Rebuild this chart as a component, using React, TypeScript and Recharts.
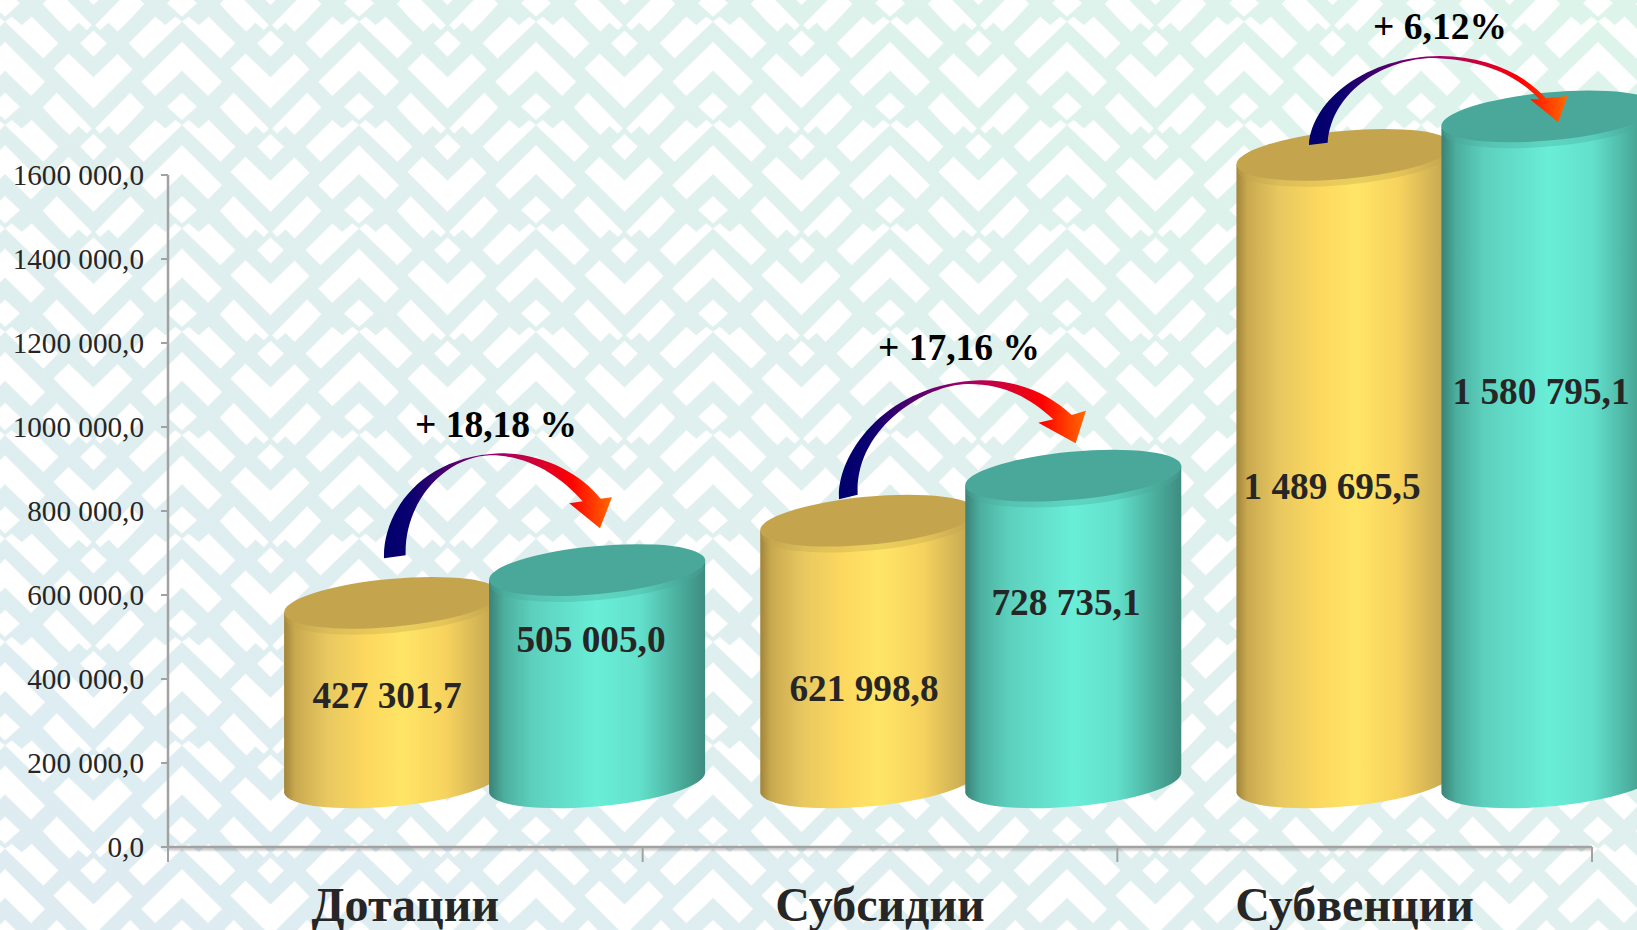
import { BarChart, Bar, XAxis, YAxis, LabelList } from 'recharts';

const categories = ['Дотации', 'Субсидии', 'Субвенции'];
const yearA = [427301.7, 621998.8, 1489695.5];
const yearB = [505005.0, 728735.1, 1580795.1];
const yTicks = [0, 200000, 400000, 600000, 800000, 1000000, 1200000, 1400000, 1600000];
const changes = ['+ 18,18 %', '+ 17,16 %', '+ 6,12%'];

const chartData = categories.map((name, i) => ({ name, yearA: yearA[i], yearB: yearB[i] }));

const WIDTH = 1637;
const HEIGHT = 930;
const SERIF = '"Liberation Serif", "Times New Roman", serif';
const INK = '#262626';
const AXIS = '#a2a2a2';
const PLOT_BOTTOM = 847;
const BAND = (1592 - 168) / 3;

// the 3D floor of the original sits up and to the right of the axes
const DEPTH_X = 89.1;
const DEPTH_STEP = 1.5;
const DEPTH_Y = -64;
const TILT = 10;
const RY = 24;

// hand placed in the original, not centred on the bars
const labelPosA = [{ x: 387, y: 708 }, { x: 864, y: 701 }, { x: 1332, y: 499 }];
const labelPosB = [{ x: 591, y: 652 }, { x: 1066, y: 615 }, { x: 1541, y: 404 }];
const changePos = [{ x: 496, y: 437 }, { x: 959, y: 360 }, { x: 1440, y: 39 }];

const arrows = [
  {
    at: 'translate(260 420) scale(0.3333)',
    d: 'M372 415 C368 280 480 110 720 100 C850 100 960 160 1022 236 L1056 232 L1020 325 L928 250 L968 244 C900 165 800 105 690 106 C560 110 432 240 437 406 Z',
  },
  {
    at: 'translate(820 320) scale(0.3333)',
    d: 'M57 538 C50 400 200 190 480 181 C600 180 690 225 755 285 L798 272 L767 370 L655 308 L700 298 C620 225 540 190 440 192 C320 195 105 320 113 524 Z',
  },
  {
    at: 'translate(1200 0) scale(0.3333)',
    d: 'M327 435 C335 300 500 170 720 168 C850 170 960 210 1038 295 L1103 288 L1075 367 L990 298 L1018 298 C950 225 850 180 700 174 C560 175 395 270 383 428 Z',
  },
];

// white pieces of the ornament, one tile
const ornament = [
  '160,205 205,160 280,232 352,162 397,208 280,325',
  '423,245 545,125 665,245 623,288 545,212 465,288',
  '170,278 128,322 180,378 208,405 235,378 260,400 275,385',
  '390,278 432,322 380,378 352,405 325,378 300,400 285,385',
  '240,130 280,92 320,130 280,170',
  '500,320 545,278 590,320 545,360',
  '385,130 465,50 495,75 525,50 545,65 430,175',
  '705,130 625,50 595,75 565,50 545,65 660,175',
];

function formatValue(v: number) {
  const [whole, frac] = v.toFixed(1).split('.');
  return whole.replace(/\B(?=(\d{3})+$)/g, ' ') + ',' + frac;
}

function formatTick(v: number) {
  return v === 0 ? '0,0' : `${v / 1000} 000,0`;
}

function Backdrop() {
  const offsets = [-1, 0, 1];
  return (
    <svg
      width={WIDTH}
      height={HEIGHT}
      style={{ position: 'absolute', left: 0, top: 0, filter: 'blur(0.6px)' }}
    >
      <defs>
        <linearGradient id="tint" x1="0" y1="1" x2="1" y2="0">
          <stop offset="0" stopColor="#deecf2" />
          <stop offset="0.5" stopColor="#dff0ee" />
          <stop offset="1" stopColor="#ddf4eb" />
        </linearGradient>
        <pattern id="ornament" width={177} height={103.4} patternUnits="userSpaceOnUse">
          <g transform="scale(0.33396 0.33355)">
            {offsets.map((ox) =>
              offsets.map((oy) => (
                <g key={`${ox}-${oy}`} transform={`translate(${ox * 530} ${oy * 310})`}>
                  {ornament.map((pts) => (
                    <polygon key={pts} points={pts} fill="#fff" />
                  ))}
                </g>
              )),
            )}
          </g>
        </pattern>
      </defs>
      <rect width={WIDTH} height={HEIGHT} fill="url(#tint)" />
      <rect width={WIDTH} height={HEIGHT} fill="url(#ornament)" />
    </svg>
  );
}

function Annotations() {
  return (
    <svg width={WIDTH} height={HEIGHT} style={{ position: 'absolute', left: 0, top: 0, pointerEvents: 'none' }}>
      <defs>
        <linearGradient id="arrowFill" x1="0" y1="0" x2="1" y2="0">
          <stop offset="0" stopColor="#00006e" />
          <stop offset="0.12" stopColor="#0c0070" />
          <stop offset="0.5" stopColor="#a0006c" />
          <stop offset="0.82" stopColor="#ff0000" />
          <stop offset="1" stopColor="#ff6a00" />
        </linearGradient>
      </defs>
      {arrows.map((a) => (
        <g key={a.at} transform={a.at}>
          <path d={a.d} fill="url(#arrowFill)" />
        </g>
      ))}
      {changes.map((c, i) => (
        <text
          key={c}
          x={changePos[i].x}
          y={changePos[i].y}
          textAnchor="middle"
          fontFamily={SERIF}
          fontWeight={700}
          fontSize={37.5}
          fill="#000"
        >
          {c}
        </text>
      ))}
    </svg>
  );
}

function Cylinder(props: any) {
  const { x, y, width, height, index, side, top } = props;
  const left = x + DEPTH_X + index * DEPTH_STEP;
  const right = left + width;
  const yBase = y + height + DEPTH_Y;
  const yTop = yBase - height * 1.004;
  const rx = width / 2 + 0.5;
  const cx = left + width / 2;
  const rot = (Math.atan2(-2 * TILT, width) * 180) / Math.PI;
  const body = `M${left} ${yTop + TILT} L${left} ${yBase + TILT} A${rx} ${RY} ${rot} 0 0 ${right} ${yBase - TILT} L${right} ${yTop - TILT} Z`;
  return (
    <g>
      <path d={body} fill={side} />
      {/* soft rim under the lid */}
      <ellipse cx={cx} cy={yTop + 6} rx={rx - 1} ry={RY} fill={top} opacity={0.35} transform={`rotate(${rot} ${cx} ${yTop + 6})`} />
      <ellipse cx={cx} cy={yTop} rx={rx} ry={RY} fill={top} transform={`rotate(${rot} ${cx} ${yTop})`} />
    </g>
  );
}

function placedLabel(pos: { x: number; y: number }[]) {
  return (props: any) => {
    const p = pos[props.index];
    return (
      <text x={p.x} y={p.y} textAnchor="middle" fontFamily={SERIF} fontWeight={700} fontSize={37.3} fill={INK}>
        {formatValue(Number(props.value))}
      </text>
    );
  };
}

// category labels sit mid band, the tick marks on the band edges
function CategoryTick(props: any) {
  const { x, payload, index } = props;
  const edges = index === 0 ? [x - BAND / 2, x + BAND / 2] : [x + BAND / 2];
  return (
    <g>
      {edges.map((ex) => (
        <line key={ex} x1={ex} x2={ex} y1={PLOT_BOTTOM} y2={PLOT_BOTTOM + 15} stroke={AXIS} strokeWidth={2} />
      ))}
      <text x={x} y={921} textAnchor="middle" fontFamily={SERIF} fontWeight={700} fontSize={48} fill={INK}>
        {payload.value}
      </text>
    </g>
  );
}

export default function App() {
  return (
    <div style={{ position: 'absolute', left: 0, top: 0, width: WIDTH, height: HEIGHT, overflow: 'hidden' }}>
      <Backdrop />
      <div style={{ position: 'absolute', left: 0, top: 0 }}>
        <BarChart
          width={WIDTH}
          height={HEIGHT}
          data={chartData}
          barSize={216}
          barGap={-11}
          margin={{ top: 175, right: 45, bottom: 0, left: 0 }}
        >
          <defs>
            <linearGradient id="sideA" x1="0" y1="0" x2="1" y2="0">
              <stop offset="0" stopColor="#a0843a" />
              <stop offset="0.05" stopColor="#c9a94f" />
              <stop offset="0.2" stopColor="#e8c860" />
              <stop offset="0.38" stopColor="#fcd85f" />
              <stop offset="0.55" stopColor="#ffe566" />
              <stop offset="0.75" stopColor="#f7d35e" />
              <stop offset="0.9" stopColor="#d4b556" />
              <stop offset="1" stopColor="#bfa050" />
            </linearGradient>
            <linearGradient id="sideB" x1="0" y1="0" x2="1" y2="0">
              <stop offset="0" stopColor="#3a8277" />
              <stop offset="0.07" stopColor="#4caf9f" />
              <stop offset="0.2" stopColor="#5dd0bd" />
              <stop offset="0.5" stopColor="#69eed8" />
              <stop offset="0.7" stopColor="#62e0cb" />
              <stop offset="0.9" stopColor="#48a898" />
              <stop offset="1" stopColor="#3e8c80" />
            </linearGradient>
          </defs>
          <XAxis
            dataKey="name"
            height={83}
            axisLine={{ stroke: AXIS, strokeWidth: 2.5, style: { filter: 'drop-shadow(0 2px 1px rgba(0,0,0,0.25))' } }}
            tickLine={false}
            interval={0}
            tick={CategoryTick}
          />
          <YAxis
            width={168}
            domain={[0, 1600000]}
            ticks={yTicks}
            tickFormatter={formatTick}
            tickSize={7}
            tickMargin={17}
            interval={0}
            axisLine={{ stroke: AXIS, strokeWidth: 2.5 }}
            tickLine={{ stroke: AXIS, strokeWidth: 2 }}
            tick={{ fontFamily: SERIF, fontSize: 29.2, fill: INK }}
          />
          <Bar
            dataKey="yearA"
            isAnimationActive={false}
            shape={(p: any) => <Cylinder {...p} side="url(#sideA)" top="#c4a54e" />}
          >
            <LabelList dataKey="yearA" content={placedLabel(labelPosA)} />
          </Bar>
          <Bar
            dataKey="yearB"
            isAnimationActive={false}
            shape={(p: any) => <Cylinder {...p} side="url(#sideB)" top="#4aa89a" />}
          >
            <LabelList dataKey="yearB" content={placedLabel(labelPosB)} />
          </Bar>
        </BarChart>
      </div>
      <Annotations />
    </div>
  );
}
